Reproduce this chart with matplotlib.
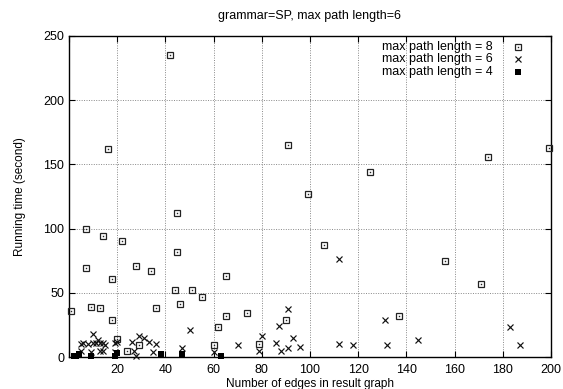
import matplotlib
matplotlib.use("Agg")
import matplotlib.pyplot as plt

plt.rcParams['font.family'] = ['Liberation Sans', 'DejaVu Sans']

# max path length = 8 (open squares with centre dot)
len8_x = [1, 7, 7, 9, 13, 14, 16, 18, 18, 20, 22, 24, 28, 29, 34, 36, 42, 44, 45, 45,
          46, 51, 55, 60, 62, 65, 65, 74, 79, 90, 91, 99, 106, 125, 137, 156, 171, 174, 199]
len8_y = [36, 100, 69, 39, 38, 94, 162, 61, 29, 14, 90, 5, 71, 9, 67, 38, 235, 52, 112, 82,
          41, 52, 47, 9, 23, 32, 63, 34, 10, 29, 165, 127, 87, 144, 32, 75, 57, 156, 163]

# max path length = 6 (crosses)
len6_x = [5, 5, 6, 8, 9, 10, 10, 11, 12, 13, 13, 14, 14, 15, 19, 19, 20, 26, 27, 28, 29, 31, 33,
          35, 36, 47, 50, 60, 70, 79, 80, 86, 87, 88, 91, 91, 93, 96, 112, 112, 118, 131, 132,
          145, 183, 187]
len6_y = [10, 5, 11, 10, 4, 11, 18, 11, 13, 11, 5, 11, 5, 9, 4, 11, 12, 12, 5, 1, 16, 15, 12,
          4, 10, 7, 21, 4, 9, 5, 16, 11, 24, 5, 37, 7, 15, 8, 76, 10, 9, 29, 9,
          13, 23, 9]

# max path length = 4 (filled squares)
len4_x = [2, 3, 4, 9, 19, 20, 38, 47, 63]
len4_y = [1, 1, 2, 1, 1, 3, 2, 2, 1]

series_labels = ['max path length = 8', 'max path length = 6', 'max path length = 4']
x_ticks = [0, 20, 40, 60, 80, 100, 120, 140, 160, 180, 200]
x_tick_labels = ['', '20', '40', '60', '80', '100', '120', '140', '160', '180', '200']
y_ticks = [0, 50, 100, 150, 200, 250]

fig = plt.figure(figsize=(5.63, 3.89), dpi=100)
ax = fig.add_axes([69/563, 1 - 357/389, (551-69)/563, (357-36)/389])

col = '#222222'
sq_style = dict(ls='none', marker='s', ms=4.6, mfc='none', mec=col, mew=0.9, clip_on=False, zorder=3)
dot_style = dict(ls='none', marker='s', ms=1.0, mfc=col, mec=col, mew=0, clip_on=False, zorder=3)
cr_style = dict(ls='none', marker='x', ms=4.2, mec='#111111', mew=0.85, clip_on=False, zorder=3)
fs_style = dict(ls='none', marker='s', ms=4.0, mfc='black', mec='black', mew=0, clip_on=False, zorder=4)

ax.plot(len8_x, len8_y, **sq_style)
ax.plot(len8_x, len8_y, **dot_style)
ax.plot(len6_x, len6_y, **cr_style)
ax.plot(len4_x, len4_y, **fs_style)

ax.set_xlim(0, 200)
ax.set_ylim(0, 250)
ax.set_xticks(x_ticks)
ax.set_xticklabels(x_tick_labels)
ax.set_yticks(y_ticks)
ax.tick_params(direction='in', length=4, width=0.8, top=True, right=True, labelsize=9,
               colors='black')
ax.tick_params(axis='x', pad=5)
ax.tick_params(axis='y', pad=3.5)
ax.grid(True, linestyle=(0, (1, 1.5)), color='#888888', linewidth=0.7)
for s in ax.spines.values():
    s.set_linewidth(1.0)
    s.set_color('black')

ax.set_title('grammar=SP, max path length=6', fontsize=9, pad=12)
ax.set_xlabel('Number of edges in result graph', fontsize=8.5, labelpad=1.5)
ax.set_ylabel('Running time (second)', fontsize=8.5, labelpad=12)

# legend (gnuplot style: right-aligned text, key symbol to the right)
text_x = 0.8797
key_x = 0.9315
rows_y = [0.9657, 0.9268, 0.8879]
key_styles = [[sq_style, dot_style], [cr_style], [fs_style]]
for lab, yy, styles in zip(series_labels, rows_y, key_styles):
    ax.text(text_x, yy, lab, transform=ax.transAxes, ha='right', va='center', fontsize=9)
    for st in styles:
        ax.plot([key_x], [yy], transform=ax.transAxes, **st)

fig.savefig('out.png', dpi=100)
